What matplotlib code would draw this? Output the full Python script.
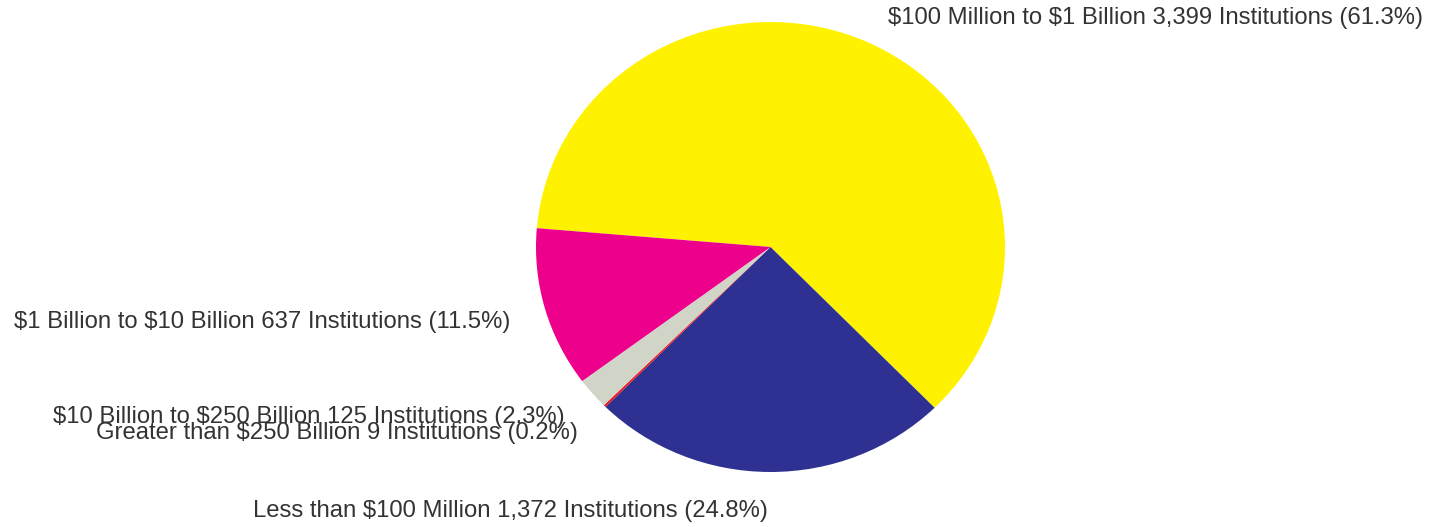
## pie of institutions by asset size
import matplotlib
matplotlib.use("Agg")
from matplotlib import pyplot as plt

plt.rcParams['font.family'] = ['Liberation Sans', 'DejaVu Sans']
plt.rcParams['text.parse_math'] = False

categories = ["$100 Million to $1 Billion", "Less than $100 Million",
              "Greater than $250 Billion", "$10 Billion to $250 Billion",
              "$1 Billion to $10 Billion"]
counts = [3399, 1372, 9, 125, 637]
shares = [61.3, 24.8, 0.2, 2.3, 11.5]
colors = ["#FFF200", "#2E3192", "#ED1C24", "#D1D5C7", "#EC008C"]

# label anchor spots in pixels (x, y from top) and alignment
label_px = [(888, 18, 'left'), (768, 511, 'right'), (578, 433, 'right'),
            (565, 417, 'right'), (510, 322, 'right')]

W, H = 1439, 527
cx, cy = 770.5, 247
rx, ry = 234.5, 225   # the original pie is a bit squashed

fig = plt.figure(figsize=(W / 100, H / 100), dpi=100)
ax = fig.add_axes([0, 0, 1, 1])
ax.pie(counts, colors=colors, startangle=175.2, counterclock=False,
       radius=1, center=(0, 0), wedgeprops=dict(linewidth=0))
ax.set_xlim(-cx / rx, (W - cx) / rx)
ax.set_ylim(-(H - cy) / ry, cy / ry)
ax.set_aspect('auto')
ax.axis('off')

for cat, n, s, (px, py, ha) in zip(categories, counts, shares, label_px):
    txt = "{} {:,} Institutions ({}%)".format(cat, n, s)
    ax.text((px - cx) / rx, (cy - py) / ry, txt, ha=ha, va='center',
            fontsize=17.2, color='#333333')

fig.savefig("out.png", dpi=100)
